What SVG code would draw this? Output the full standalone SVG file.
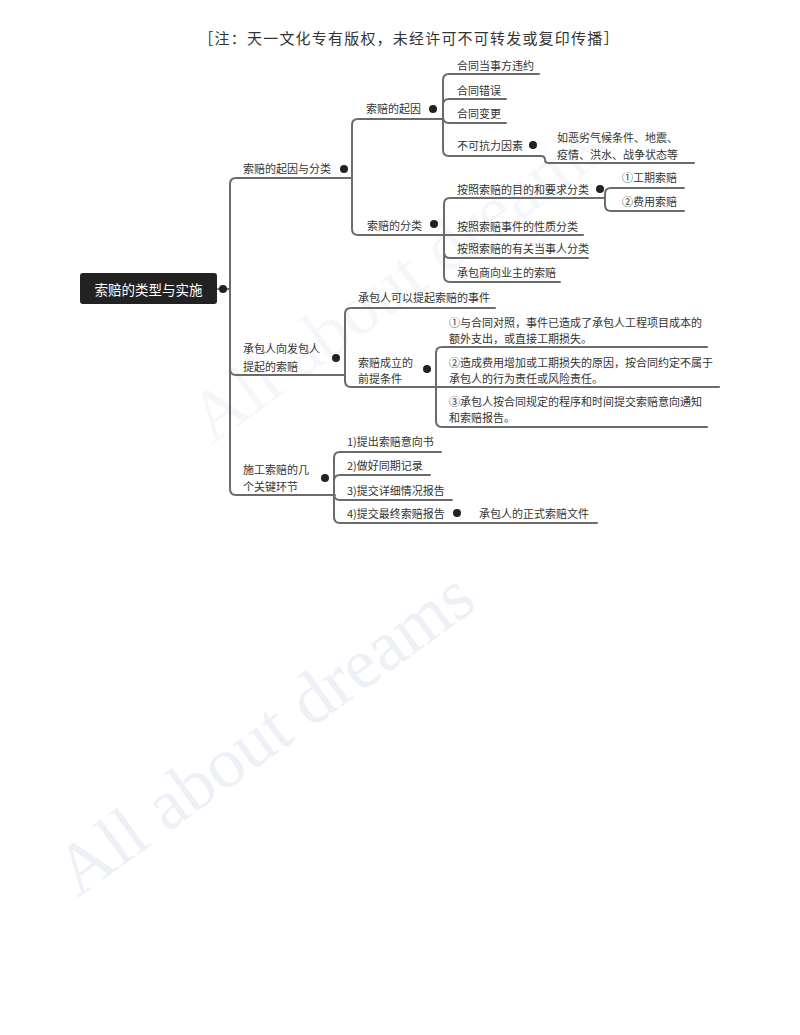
<svg xmlns="http://www.w3.org/2000/svg" width="800" height="1035" viewBox="0 0 800 1035">
<defs>
<style>
.t{font-family:"Noto Sans CJK SC","Noto Sans",sans-serif;font-size:11px;fill:#333;dominant-baseline:central}
.c{fill:none;stroke:#6b6b6b;stroke-width:2;stroke-linecap:round}
.d{fill:#222}
.wm{font-family:"Liberation Serif",serif;font-size:72px;fill:#edf0f6}
</style>
</defs>
<rect width="800" height="1035" fill="#fff"/>
<g id="watermarks">
<text class="wm" transform="translate(212,445) rotate(-36)" opacity="0.55">All about dreams</text>
<text class="wm" transform="translate(78,898) rotate(-36)">All about dreams</text>
</g>
<text x="409" y="37" text-anchor="middle" letter-spacing="1.2" style="font-family:'Noto Sans CJK SC',sans-serif;font-size:15px;fill:#333;dominant-baseline:central">［注：天一文化专有版权，未经许可不可转发或复印传播］</text>
<g id="connectors">
<path class="c" d="M218,289 H230"/>
<path class="c" d="M230,289 V184 Q230,178 236,178 H352"/>
<path class="c" d="M230,289 V369 Q230,375 236,375 H345"/>
<path class="c" d="M230,289 V489 Q230,495 236,495 H335"/>
<path class="c" d="M352,178 V125 Q352,119 358,119 H443"/>
<path class="c" d="M352,178 V229 Q352,235 358,235 H444"/>
<path class="c" d="M443,119 V80 Q443,74 449,74 H539"/>
<path class="c" d="M443,119 V105 Q443,99 449,99 H506"/>
<path class="c" d="M443,117 Q443,123 449,123 H506"/>
<path class="c" d="M443,119 V150 Q443,156 449,156 H541"/>
<path class="c" d="M541,156 Q545,156 545,160 Q545,163 549,163 H694"/>
<path class="c" d="M444,235 V204 Q444,198 450,198 H605"/>
<path class="c" d="M444,235 H583"/>
<path class="c" d="M444,235 V252 Q444,258 450,258 H588"/>
<path class="c" d="M444,235 V276 Q444,282 450,282 H560"/>
<path class="c" d="M605,198 V194 Q605,188 611,188 H684"/>
<path class="c" d="M605,198 V205 Q605,211 611,211 H684"/>
<path class="c" d="M345,375 V314 Q345,308 351,308 H495"/>
<path class="c" d="M345,375 V381 Q345,387 351,387 H436"/>
<path class="c" d="M436,387 V353 Q436,347 442,347 H707"/>
<path class="c" d="M436,387 H719"/>
<path class="c" d="M436,387 V421 Q436,427 442,427 H707"/>
<path class="c" d="M334,495 V458 Q334,452 340,452 H441"/>
<path class="c" d="M334,495 V481 Q334,475 340,475 H430"/>
<path class="c" d="M334,494 Q334,500 340,500 H452"/>
<path class="c" d="M334,495 V517 Q334,523 340,523 H597"/>
</g>
<g id="root">
<rect x="80" y="273" width="137" height="31" rx="3" fill="#222"/>
<text x="148.5" y="289" text-anchor="middle" style="font-family:'Noto Sans CJK SC',sans-serif;font-size:13.5px;fill:#fff;dominant-baseline:central">索赔的类型与实施</text>
<circle class="d" cx="223" cy="289" r="4"/>
</g>
<g id="n-qiyin-fenlei">
<text class="t" x="243" y="168">索赔的起因与分类</text>
<circle class="d" cx="344" cy="169" r="4"/>
</g>
<g id="n-qiyin">
<text class="t" x="366" y="108">索赔的起因</text>
<circle class="d" cx="433" cy="109" r="4"/>
</g>
<g id="n-weiyue"><text class="t" x="457" y="65">合同当事方违约</text></g>
<g id="n-cuowu"><text class="t" x="457" y="90">合同错误</text></g>
<g id="n-biangeng"><text class="t" x="457" y="113">合同变更</text></g>
<g id="n-bukekangli">
<text class="t" x="457" y="145">不可抗力因素</text>
<circle class="d" cx="533" cy="145" r="4"/>
</g>
<g id="n-ru">
<text class="t" x="557" y="137">如恶劣气候条件、地震、</text>
<text class="t" x="557" y="154">疫情、洪水、战争状态等</text>
</g>
<g id="n-fenlei">
<text class="t" x="367" y="225">索赔的分类</text>
<circle class="d" cx="434" cy="224" r="4"/>
</g>
<g id="n-mudi">
<text class="t" x="457" y="189">按照索赔的目的和要求分类</text>
<circle class="d" cx="600" cy="189" r="4"/>
</g>
<g id="n-gongqi"><text class="t" x="622" y="177">①工期索赔</text></g>
<g id="n-feiyong"><text class="t" x="622" y="201">②费用索赔</text></g>
<g id="n-xingzhi"><text class="t" x="457" y="226">按照索赔事件的性质分类</text></g>
<g id="n-dangshiren"><text class="t" x="457" y="248">按照索赔的有关当事人分类</text></g>
<g id="n-yezhu"><text class="t" x="457" y="272">承包商向业主的索赔</text></g>
<g id="n-chengbaoren">
<text class="t" x="243" y="348">承包人向发包人</text>
<text class="t" x="243" y="366">提起的索赔</text>
<circle class="d" cx="336" cy="358" r="4"/>
</g>
<g id="n-shijian"><text class="t" x="358" y="297">承包人可以提起索赔的事件</text></g>
<g id="n-qianti">
<text class="t" x="358" y="362">索赔成立的</text>
<text class="t" x="358" y="378">前提条件</text>
<circle class="d" cx="427" cy="369" r="4"/>
</g>
<g id="n-c1">
<text class="t" x="449" y="322">①与合同对照，事件已造成了承包人工程项目成本的</text>
<text class="t" x="449" y="338">额外支出，或直接工期损失。</text>
</g>
<g id="n-c2">
<text class="t" x="449" y="362">②造成费用增加或工期损失的原因，按合同约定不属于</text>
<text class="t" x="449" y="378">承包人的行为责任或风险责任。</text>
</g>
<g id="n-c3">
<text class="t" x="449" y="401">③承包人按合同规定的程序和时间提交索赔意向通知</text>
<text class="t" x="449" y="417">和索赔报告。</text>
</g>
<g id="n-huanjie">
<text class="t" x="243" y="469">施工索赔的几</text>
<text class="t" x="243" y="486">个关键环节</text>
<circle class="d" cx="325" cy="478" r="4"/>
</g>
<g id="n-s1"><text class="t" x="347" y="441">1)提出索赔意向书</text></g>
<g id="n-s2"><text class="t" x="347" y="465">2)做好同期记录</text></g>
<g id="n-s3"><text class="t" x="347" y="490">3)提交详细情况报告</text></g>
<g id="n-s4">
<text class="t" x="347" y="513">4)提交最终索赔报告</text>
<circle class="d" cx="457" cy="513" r="4"/>
</g>
<g id="n-wenjian"><text class="t" x="479" y="513">承包人的正式索赔文件</text></g>
</svg>
